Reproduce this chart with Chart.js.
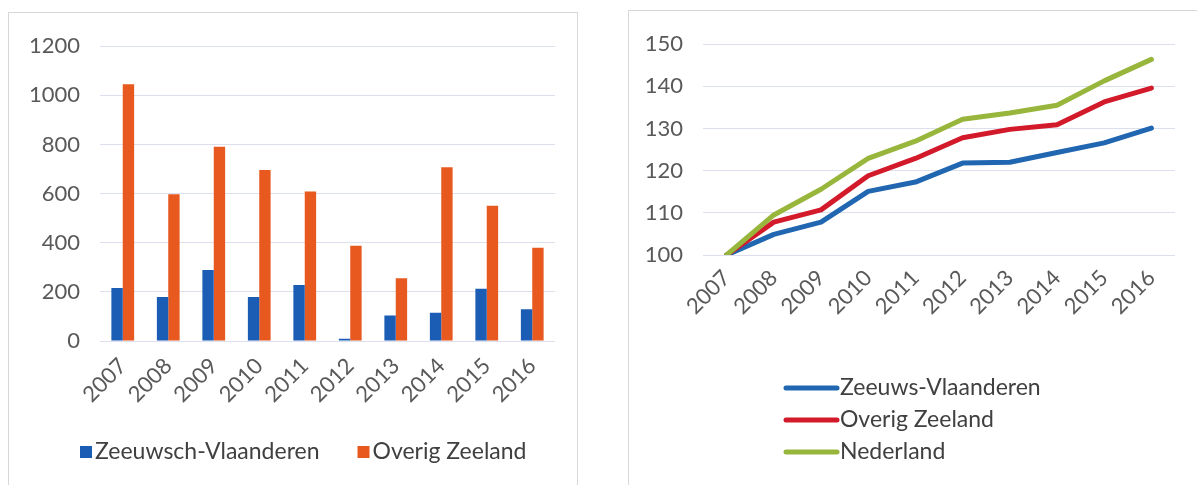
<!DOCTYPE html>
<html lang="nl">
<head>
<meta charset="utf-8" />
<title>Zeeland</title>
<style>
  body { margin: 0; background: #fff; width: 1197px; height: 485px; overflow: hidden; position: relative; }
  .kader { position: absolute; border: 1.5px solid #d8d8d8; background: #fff; }
  #kaderLinks { left: 8px; top: 12px; width: 568px; height: 500px; }
  #kaderRechts { left: 628px; top: 10px; width: 600px; height: 500px; }
  canvas { position: absolute; }
  #staaf { left: 9px; top: 13px; }
  #lijn { left: 629px; top: 11px; }
</style>
</head>
<body>
<div class="kader" id="kaderLinks"></div>
<div class="kader" id="kaderRechts"></div>
<canvas id="staaf" width="567" height="472"></canvas>
<canvas id="lijn" width="567" height="474"></canvas>

<script src="https://cdn.jsdelivr.net/npm/chart.js"></script>
<script>
const jaren = ["2007", "2008", "2009", "2010", "2011", "2012", "2013", "2014", "2015", "2016"];

// linker grafiek (aantallen)
const zeeuwschVlaanderen = [216, 179, 289, 179, 228, 9, 104, 115, 213, 129];
const overigZeeland = [1045, 597, 791, 696, 609, 388, 255, 707, 551, 380];

// rechter grafiek (index 2007 = 100)
const indexZeeuwsVlaanderen = [100, 104.9, 107.8, 115.1, 117.3, 121.8, 122.0, 124.3, 126.6, 130.1];
const indexOverigZeeland = [100, 107.8, 110.7, 118.8, 122.9, 127.8, 129.8, 130.9, 136.3, 139.6];
const indexNederland = [100, 109.5, 115.6, 122.9, 127.0, 132.2, 133.7, 135.5, 141.3, 146.4];

Chart.defaults.font.family = "Lato, 'Open Sans', sans-serif";
Chart.defaults.font.size = 22;
Chart.defaults.color = "#595959";

const rasterKleur = "#dcdfee";
const legendaFont = "23px Lato, 'Open Sans', sans-serif";

// legenda naast elkaar met vierkantjes (staafgrafiek)
const staafLegenda = {
  id: "staafLegenda",
  afterDraw(chart) {
    const ctx = chart.ctx;
    ctx.save();
    ctx.font = legendaFont;
    ctx.textBaseline = "middle";
    const y = 439;
    let x = 71;
    chart.data.datasets.forEach((ds) => {
      ctx.fillStyle = ds.backgroundColor;
      ctx.fillRect(x, y - 6, 12, 12);
      ctx.fillStyle = "#404040";
      ctx.fillText(ds.label, x + 15, y);
      x += 15 + ctx.measureText(ds.label).width + 38;
    });
    ctx.restore();
  }
};

new Chart(document.querySelector("#staaf"), {
  type: "bar",
  data: {
    labels: jaren,
    datasets: [
      { label: "Zeeuwsch-Vlaanderen", data: zeeuwschVlaanderen, backgroundColor: "#1b5cb4" },
      { label: "Overig Zeeland", data: overigZeeland, backgroundColor: "#e8591f" }
    ]
  },
  options: {
    responsive: false,
    animation: false,
    layout: { padding: { left: 0, right: 21, top: 28, bottom: 79 } },
    datasets: { bar: { categoryPercentage: 0.5, barPercentage: 1.0 } },
    plugins: {
      legend: { display: false },
      tooltip: { enabled: false }
    },
    scales: {
      x: {
        grid: { display: false, drawTicks: false },
        border: { display: false },
        ticks: { minRotation: 45, maxRotation: 45, padding: 12 },
        afterFit(s) { s.height = 65; }
      },
      y: {
        min: 0,
        max: 1200,
        ticks: { stepSize: 200, padding: 20, callback: (v) => String(v) },
        grid: { color: rasterKleur, drawTicks: false },
        border: { display: false },
        afterFit(s) { s.width = 91; }
      }
    }
  },
  plugins: [staafLegenda]
});

// legenda onder elkaar, zoals in het origineel
const lijnLegenda = {
  id: "lijnLegenda",
  afterDraw(chart) {
    const ctx = chart.ctx;
    ctx.save();
    ctx.font = legendaFont;
    ctx.textBaseline = "middle";
    ctx.fillStyle = "#404040";
    ctx.lineCap = "round";
    ctx.lineWidth = 5;
    chart.data.datasets.forEach((ds, i) => {
      const y = 377 + i * 32;
      ctx.strokeStyle = ds.borderColor;
      ctx.beginPath();
      ctx.moveTo(157, y);
      ctx.lineTo(208, y);
      ctx.stroke();
      ctx.fillText(ds.label, 211, y);
    });
    ctx.restore();
  }
};

new Chart(document.querySelector("#lijn"), {
  type: "line",
  data: {
    labels: jaren,
    datasets: [
      { label: "Zeeuws-Vlaanderen", data: indexZeeuwsVlaanderen, borderColor: "#2166b0", order: 2 },
      { label: "Overig Zeeland", data: indexOverigZeeland, borderColor: "#d31a2a", order: 1 },
      { label: "Nederland", data: indexNederland, borderColor: "#98b53c", order: 0 }
    ]
  },
  options: {
    responsive: false,
    animation: false,
    layout: { padding: { left: 0, right: 21, top: 29, bottom: 150 } },
    elements: {
      point: { radius: 0 },
      line: { borderWidth: 5, tension: 0, borderJoinStyle: "round", borderCapStyle: "round" }
    },
    plugins: {
      legend: { display: false },
      tooltip: { enabled: false }
    },
    scales: {
      x: {
        offset: true,
        grid: { display: false, drawTicks: false },
        border: { display: false },
        ticks: { minRotation: 45, maxRotation: 45, padding: 10 },
        afterFit(s) { s.height = 80; }
      },
      y: {
        min: 100,
        max: 150,
        ticks: { stepSize: 10, padding: 20 },
        grid: { color: rasterKleur, drawTicks: false },
        border: { display: false },
        afterFit(s) { s.width = 74; }
      }
    }
  },
  plugins: [lijnLegenda]
});
</script>
</body>
</html>
